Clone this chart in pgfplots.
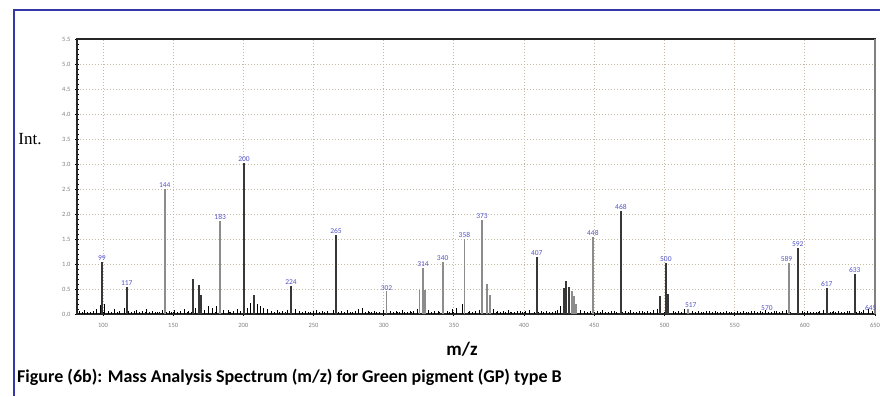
\documentclass[border=0pt]{standalone}
\usepackage{fontspec}
\setmainfont{Carlito}
\newfontfamily\seriffont{Liberation Serif}
\usepackage{pgfplots}
\pgfplotsset{compat=1.18}
\definecolor{frameblue}{RGB}{55,55,170}
\definecolor{lblblue}{RGB}{85,85,200}
\definecolor{gridc}{RGB}{195,185,165}
\definecolor{barlight}{RGB}{140,140,140}
\definecolor{bardark}{RGB}{55,55,55}

\pgfplotstableread{
x y
99.3 1.04
117 0.54
164.2 0.70
168.5 0.58
170 0.38
200.5 3.02
207.7 0.38
234 0.56
266 1.58
409 1.14
428.5 0.52
430 0.66
432 0.54
469 2.06
497 0.36
501 1.02
502.5 0.40
595 1.32
615.6 0.52
635.6 0.80
}\darkpeaks

\pgfplotstableread{
x y
144 2.50
183.5 1.86
302 0.45
325.5 0.48
328 0.92
329.5 0.48
342 1.04
357.5 1.50
370 1.88
373.5 0.60
375.5 0.38
434 0.45
435.5 0.35
437 0.20
449 1.54
589 1.02
516.5 0.10
}\lightpeaks

\pgfplotstableread{
x y
83 0.05
85 0.03
87 0.08
89 0.04
91 0.04
93 0.06
95 0.10
98 0.18
101 0.20
104 0.06
106 0.04
108 0.09
110 0.03
112 0.05
115 0.12
118 0.05
120 0.04
122 0.06
124 0.07
126 0.03
128 0.05
131 0.09
133 0.04
135 0.06
137 0.03
139 0.04
142 0.08
145 0.04
147 0.05
149 0.03
151 0.07
153 0.04
155 0.05
158 0.10
161 0.06
163 0.04
166 0.12
172 0.08
175 0.15
178 0.12
181 0.16
186 0.08
189 0.07
191 0.04
193 0.05
196 0.09
198 0.05
203 0.12
205 0.22
210 0.20
212 0.15
214 0.12
217 0.10
220 0.06
222 0.04
224 0.08
226 0.04
228 0.05
231 0.07
237 0.10
240 0.05
242 0.03
244 0.06
246 0.04
248 0.04
250 0.05
252 0.07
254 0.03
256 0.05
258 0.04
260 0.06
264 0.08
268 0.04
270 0.05
272 0.03
274 0.07
276 0.04
278 0.04
280 0.06
282 0.10
285 0.12
287 0.04
289 0.05
291 0.03
293 0.06
295 0.04
297 0.04
300 0.08
305 0.06
307 0.03
309 0.05
311 0.04
313 0.07
315 0.03
317 0.04
319 0.05
321 0.06
324 0.10
332 0.08
334 0.04
336 0.05
339 0.06
345 0.05
347 0.03
349 0.09
352 0.12
356 0.20
361 0.06
363 0.04
365 0.05
368 0.07
378 0.10
381 0.06
383 0.04
385 0.05
387 0.03
389 0.08
391 0.04
393 0.04
395 0.05
397 0.06
399 0.03
401 0.05
404 0.07
407 0.04
412 0.05
414 0.03
416 0.06
418 0.04
420 0.04
422 0.05
424 0.08
426 0.15
440 0.08
443 0.05
445 0.03
447 0.06
452 0.05
454 0.03
456 0.07
458 0.04
460 0.04
462 0.05
464 0.06
466 0.03
472 0.05
474 0.03
476 0.07
478 0.04
480 0.04
482 0.05
484 0.06
486 0.03
488 0.05
490 0.04
492 0.08
495 0.10
506 0.06
508 0.04
510 0.05
512 0.03
514 0.10
520 0.06
522 0.04
524 0.05
526 0.03
528 0.04
530 0.05
532 0.06
534 0.03
536 0.05
538 0.04
540 0.04
542 0.03
544 0.05
546 0.04
548 0.04
550 0.03
552 0.06
554 0.04
556 0.05
558 0.03
560 0.04
562 0.05
564 0.06
566 0.03
568 0.05
570 0.04
572 0.07
574 0.03
576 0.04
578 0.05
580 0.05
582 0.03
584 0.06
587 0.08
598 0.05
600 0.03
602 0.06
604 0.04
606 0.04
608 0.03
610 0.05
613 0.07
618 0.04
620 0.05
622 0.03
624 0.06
626 0.04
628 0.04
630 0.05
632 0.06
637 0.04
639 0.05
642 0.07
645 0.09
648 0.06
}\noise

\pgfplotstableread{
x y lab
99.3 1.04 99
117 0.54 117
144 2.50 144
183.5 1.86 183
200.5 3.02 200
234 0.56 224
266 1.58 265
302 0.45 302
328 0.92 314
342 1.04 340
357.5 1.50 358
370 1.88 373
409 1.14 407
449 1.54 448
469 2.06 468
501 1.02 500
518.7 0.10 517
573 0.05 570
587 1.02 589
595 1.32 592
615.6 0.52 617
635.6 0.80 633
647 0.05 645
}\labels

\begin{document}
\begin{tikzpicture}[x=1pt,y=1pt]
\path[use as bounding box] (0,0) rectangle (880,396);
\fill[white] (0,0) rectangle (880,396);
\draw[frameblue, line width=2pt] (14,0) -- (14,385.5) -- (881,385.5);
\begin{axis}[
  at={(77pt,82pt)}, anchor=south west, scale only axis,
  width=798pt, height=275pt,
  xmin=81.5, xmax=650, ymin=0, ymax=5.5,
  xtick={100,150,200,250,300,350,400,450,500,550,600,650},
  ytick={0,0.5,1,1.5,2,2.5,3,3.5,4,4.5,5,5.5},
  minor x tick num=4, minor y tick num=4,
  tick align=center,
  major tick length=4pt, minor tick length=3pt,
  tick style={black, line width=0.8pt},
  grid=major,
  major grid style={gridc, dash pattern=on 1.2pt off 1.8pt, line width=0.9pt},
  axis line style={black!85, line width=1.6pt},
  clip=false,
  /pgf/number format/assume math mode=true,
  yticklabel={\pgfmathprintnumber[fixed,fixed zerofill,precision=1]{\tick}},
  xticklabel style={font=\fontsize{6.5}{7}\selectfont, text=gray, yshift=-4pt},
  yticklabel style={font=\fontsize{6.5}{7}\selectfont, text=gray, xshift=-1pt},
  xtick pos=bottom, ytick pos=left,
]
\addplot[ycomb, no markers, black, line width=0.7pt] table {\noise};
\addplot[ycomb, no markers, barlight, line width=1.8pt] table {\lightpeaks};
\addplot[ycomb, no markers, bardark, line width=1.8pt] table {\darkpeaks};
\addplot[only marks, mark=none, nodes near coords, point meta=explicit symbolic,
  nodes near coords style={font=\fontsize{7.5}{8}\selectfont, text=lblblue, anchor=south, inner sep=1pt}]
  table[meta=lab] {\labels};
\draw[gray, line width=1.6pt] (rel axis cs:1,0) -- (rel axis cs:1,1);
\end{axis}
\node[font=\seriffont\fontsize{17}{20}\selectfont, anchor=center] at (30,257) {Int.};
\node[font=\bfseries\fontsize{19}{22}\selectfont, anchor=base] at (462,40) {m/z};
\node[font=\bfseries\fontsize{18}{21}\selectfont, anchor=base west, inner sep=0pt] at (17,13) {Figure (6b): Mass Analysis Spectrum (m/z) for Green pigment (GP) type B};
\end{tikzpicture}
\end{document}
